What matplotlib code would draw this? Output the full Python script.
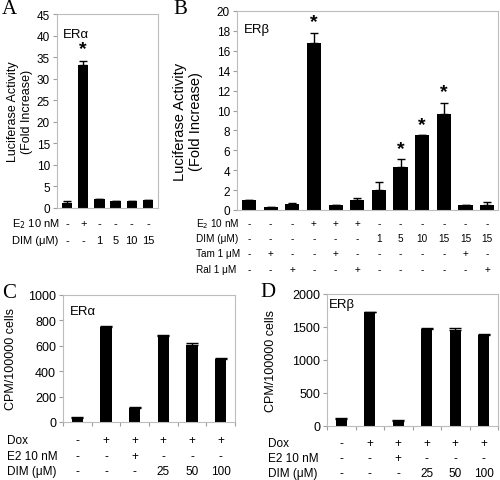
import numpy as np
import matplotlib
matplotlib.use('Agg')
import matplotlib.pyplot as plt

plt.rcParams['font.family'] = ['Liberation Sans', 'DejaVu Sans']
plt.rcParams['font.size'] = 8.5

# panel A - ERalpha luciferase
a_vals = [1.2, 33.2, 2.0, 1.6, 1.6, 1.8]
a_err = [0.4, 1.0, 0.2, 0.1, 0.1, 0.1]
a_star = [False, True, False, False, False, False]
a_e2 = ['-', '+', '-', '-', '-', '-']
a_dim = ['-', '-', '1', '5', '10', '15']

# panel B - ERbeta luciferase
b_vals = [1.0, 0.3, 0.65, 16.8, 0.5, 1.0, 2.0, 4.3, 7.5, 9.6, 0.5, 0.5]
b_err = [0.0, 0.05, 0.1, 1.0, 0.05, 0.2, 0.8, 0.8, 0.0, 1.2, 0.05, 0.3]
b_star = [False, False, False, True, False, False, False, True, True, True, False, False]
b_e2 = ['-', '-', '-', '+', '+', '+', '-', '-', '-', '-', '-', '-']
b_dim = ['-', '-', '-', '-', '-', '-', '1', '5', '10', '15', '15', '15']
b_tam = ['-', '+', '-', '-', '+', '-', '-', '-', '-', '-', '+', '-']
b_ral = ['-', '-', '+', '-', '-', '+', '-', '-', '-', '-', '-', '+']

# panel C - ERalpha CPM
c_vals = [35, 745, 110, 675, 610, 500]
c_err = [3, 12, 5, 12, 10, 5]
# panel D - ERbeta CPM
d_vals = [110, 1720, 80, 1475, 1455, 1385]
d_err = [5, 10, 10, 10, 30, 10]
cd_dox = ['-', '+', '+', '+', '+', '+']
cd_e2 = ['-', '-', '+', '-', '-', '-']
cd_dim = ['-', '-', '-', '25', '50', '100']

W, H = 500, 481
fig = plt.figure(figsize=(W / 100, H / 100), dpi=100)

def px_axes(x0, y0, x1, y1):
    return fig.add_axes([x0 / W, (H - y1) / H, (x1 - x0) / W, (y1 - y0) / H])

def style(ax, size=8.5):
    for s in ax.spines.values():
        s.set_color('#bdbdbd')
        s.set_linewidth(0.8)
    ax.tick_params(axis='y', length=3, color='#9e9e9e', pad=2, labelsize=size)

def bars(ax, vals, err, width, cap):
    x = np.arange(len(vals))
    ax.bar(x, vals, width=width, color='black', zorder=2)
    ax.errorbar(x, vals, yerr=[np.zeros(len(err)), err], fmt='none',
                ecolor='black', elinewidth=1, capsize=cap, capthick=1, zorder=3)
    return x

def row(ax, y_px, label, x_lab_px, items, size=8.5):
    fig.text(x_lab_px / W, 1 - y_px / H, label, ha='left', va='baseline', fontsize=size)
    for i, t in enumerate(items):
        xd = ax.transData.transform((i, 0))[0]
        fig.text(xd / fig.bbox.width, 1 - y_px / H, t, ha='center', va='baseline', fontsize=size)

def letter(x, y, t):
    fig.text(x / W, 1 - y / H, t, fontsize=15, family='Liberation Serif', ha='left', va='center')

# ---------- A ----------
axA = px_axes(57, 15, 158, 209)
style(axA)
x = bars(axA, a_vals, a_err, 0.65, 3)
axA.set_xlim(-0.62, 5.62)
axA.set_ylim(0, 45)
axA.set_yticks(range(0, 50, 5))
axA.set_xticks([])
for i in x:
    if a_star[i]:
        axA.text(i, a_vals[i] + a_err[i] + 0.8, '*', ha='center', va='bottom', fontsize=14, fontweight='bold')
axA.text(0.06, 0.93, 'ER\u03b1', transform=axA.transAxes, ha='left', va='top', fontsize=9.5)
axA.set_ylabel('Luciferase Activity\n(Fold Increase)', fontsize=9)
axA.yaxis.set_label_coords(-0.24, 0.5)

# ---------- B ----------
axB = px_axes(237, 12, 498, 211)
style(axB)
x = bars(axB, b_vals, b_err, 0.65, 3)
axB.set_xlim(-0.55, 11.5)
axB.set_ylim(0, 20)
axB.set_yticks(range(0, 22, 2))
axB.set_xticks([])
for i in x:
    if b_star[i]:
        axB.text(i, b_vals[i] + b_err[i] + 0.25, '*', ha='center', va='bottom', fontsize=14, fontweight='bold')
axB.text(0.025, 0.94, 'ER\u03b2', transform=axB.transAxes, ha='left', va='top', fontsize=9.5)
axB.set_ylabel('Luciferase Activity\n(Fold Increase)', fontsize=10.5)
axB.yaxis.set_label_coords(-0.13, 0.45)

# ---------- C ----------
axC = px_axes(63, 296, 235, 423)
style(axC, 9)
x = bars(axC, c_vals, c_err, 0.4, 4)
axC.set_xlim(-0.5, 5.5)
axC.set_ylim(0, 1000)
axC.set_yticks(range(0, 1200, 200))
axC.set_xticks(np.arange(-0.5, 6, 1))
axC.set_xticklabels([])
axC.tick_params(axis='x', length=3, color='#9e9e9e')
axC.text(0.04, 0.92, 'ER\u03b1', transform=axC.transAxes, ha='left', va='top', fontsize=9.5)
axC.set_ylabel('CPM/100000 cells', fontsize=9)
axC.yaxis.set_label_coords(-0.27, 0.5)

# ---------- D ----------
axD = px_axes(327, 295, 498, 427)
style(axD, 9)
x = bars(axD, d_vals, d_err, 0.4, 4)
axD.set_xlim(-0.5, 5.5)
axD.set_ylim(0, 2000)
axD.set_yticks(range(0, 2500, 500))
axD.set_xticks(np.arange(-0.5, 6, 1))
axD.set_xticklabels([])
axD.tick_params(axis='x', length=3, color='#9e9e9e')
axD.text(0.01, 0.97, 'ER\u03b2', transform=axD.transAxes, ha='left', va='top', fontsize=9.5)
axD.set_ylabel('CPM/100000 cells', fontsize=9)
axD.yaxis.set_label_coords(-0.29, 0.5)

fig.canvas.draw()

# condition rows (y = baseline in pixels)
row(axA, 227, 'E$_2$ 10 nM', 12, a_e2, 8)
row(axA, 244, 'DIM (\u03bcM)', 12, a_dim, 8)

row(axB, 227, 'E$_2$ 10 nM', 196, b_e2, 7.2)
row(axB, 242, 'DIM (\u03bcM)', 196, b_dim, 7.2)
row(axB, 257, 'Tam 1 \u03bcM', 196, b_tam, 7.2)
row(axB, 273, 'Ral 1 \u03bcM', 196, b_ral, 7.2)

row(axC, 444, 'Dox', 7, cd_dox, 8.5)
row(axC, 460, 'E2 10 nM', 7, cd_e2, 8.5)
row(axC, 475, 'DIM (\u03bcM)', 7, cd_dim, 8.5)

row(axD, 447, 'Dox', 268, cd_dox, 8.5)
row(axD, 462, 'E2 10 nM', 268, cd_e2, 8.5)
row(axD, 477, 'DIM (\u03bcM)', 268, cd_dim, 8.5)

letter(2, 9, 'A')
letter(173, 9, 'B')
letter(2, 294, 'C')
letter(260, 293, 'D')

fig.savefig('out.png', dpi=100)
